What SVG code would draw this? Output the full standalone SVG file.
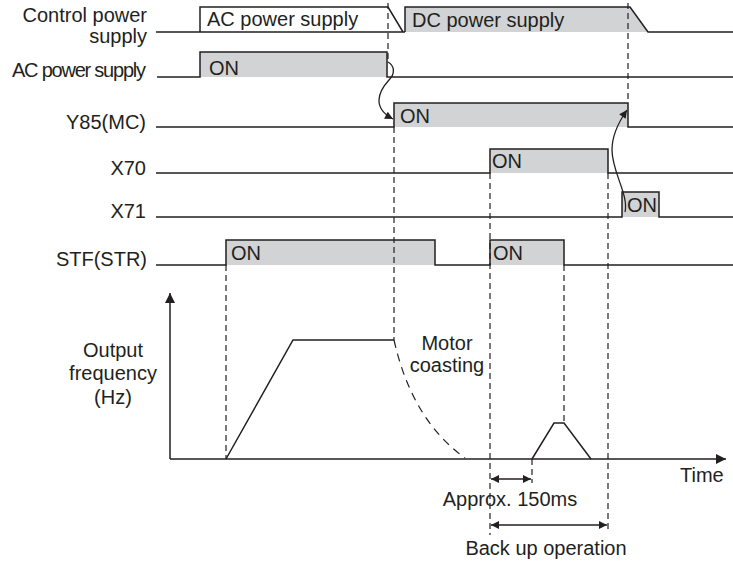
<svg xmlns="http://www.w3.org/2000/svg" width="733" height="563" viewBox="0 0 733 563">
<style>
text{font-family:"Liberation Sans",Arial,sans-serif;font-size:20px;fill:#231f20}
.lbl{text-anchor:end}
.mid{text-anchor:middle}
.w{fill:none;stroke:#231f20;stroke-width:1.5;stroke-linejoin:miter}
.f{fill:#d1d3d4;stroke:none}
.d{fill:none;stroke:#231f20;stroke-width:1.2;stroke-dasharray:6 4}
.dc{fill:none;stroke:#231f20;stroke-width:1.2;stroke-dasharray:8 6}
.c{fill:none;stroke:#231f20;stroke-width:1.3}
</style>
<defs>
<marker id="ah" viewBox="0 0 10 10" refX="10" refY="5" markerWidth="10" markerHeight="8" markerUnits="userSpaceOnUse" orient="auto-start-reverse"><path d="M0,0 L10,5 L0,10 Z" fill="#231f20"/></marker>
<marker id="ax" viewBox="0 0 10 10" refX="10" refY="5" markerWidth="12" markerHeight="10" markerUnits="userSpaceOnUse" orient="auto"><path d="M0,0 L10,5 L0,10 Z" fill="#231f20"/></marker>
</defs>
<rect width="733" height="563" fill="#fff"/>

<g id="control-power">
<text class="lbl" x="147" y="22">Control power</text>
<text class="lbl" x="147" y="43">supply</text>
<polygon class="f" points="405,7 630,7 648,32 405,32"/>
<path class="w" d="M156,32 H405 M200,32 V7 H388 L403,32 M405,32 V7 H630 L648,32 H733"/>
<text x="207" y="26">AC power supply</text>
<text x="412" y="27">DC power supply</text>
</g>

<g id="ac-power">
<text class="lbl" x="146" y="77" font-size="19" textLength="134" lengthAdjust="spacing">AC power supply</text>
<rect class="f" x="200" y="52" width="187" height="25"/>
<path class="w" d="M157,77 H200 V52 H387 V77 H733"/>
<text x="209" y="75">ON</text>
</g>

<g id="y85">
<text class="lbl" x="146" y="129">Y85(MC)</text>
<rect class="f" x="394" y="103" width="234" height="24"/>
<path class="w" d="M156,127 H394 V103 H628 V127 H733"/>
<text x="400" y="123">ON</text>
</g>

<g id="x70">
<text class="lbl" x="146" y="175">X70</text>
<rect class="f" x="490" y="149" width="118" height="24"/>
<path class="w" d="M156,173 H490 V149 H608 V173 H733"/>
<text x="492" y="168">ON</text>
</g>

<g id="x71">
<text class="lbl" x="146" y="218">X71</text>
<rect class="f" x="622" y="192" width="37" height="25"/>
<path class="w" d="M156,217 H622 V192 H659 V217 H733"/>
<text x="627" y="212">ON</text>
</g>

<g id="stf">
<text class="lbl" x="147" y="266">STF(STR)</text>
<rect class="f" x="226" y="240" width="209" height="25"/>
<rect class="f" x="490" y="240" width="74" height="25"/>
<path class="w" d="M156,265 H226 V240 H435 V265 H490 V240 H564 V265 H733"/>
<text x="231" y="260">ON</text>
<text x="493" y="260">ON</text>
</g>

<g id="frequency-plot">
<text class="mid" x="113" y="357">Output</text>
<text class="mid" x="113" y="380">frequency</text>
<text class="mid" x="113" y="404">(Hz)</text>
<line class="w" x1="170" y1="459" x2="170" y2="293" marker-end="url(#ax)"/>
<line class="w" x1="170" y1="459" x2="726" y2="459" marker-end="url(#ax)"/>
<path class="w" d="M226,459 L293,340 H394"/>
<path class="dc" d="M394,340 Q412,420 465,458"/>
<path class="w" d="M532,459 L554,423 H564 L591,459"/>
<text class="mid" x="447" y="350">Motor</text>
<text class="mid" x="447" y="372">coasting</text>
<text x="680" y="482">Time</text>
<text class="mid" x="510" y="506">Approx. 150ms</text>
<text class="mid" x="546" y="555">Back up operation</text>
</g>

<g id="connectors">
<path class="d" d="M388,3 V60"/>
<path class="d" d="M628,3 V103"/>
<path class="d" d="M394,127 V340"/>
<path class="d" d="M226,265 V459"/>
<path class="d" d="M490,173 V535"/>
<path class="d" d="M608,173 V532"/>
<path class="d" d="M564,265 V423"/>
<path class="d" d="M532,459 V483"/>
<line class="c" x1="491" y1="479" x2="531" y2="479" marker-start="url(#ah)" marker-end="url(#ah)"/>
<line class="c" x1="491" y1="525" x2="607" y2="525" marker-start="url(#ah)" marker-end="url(#ah)"/>
<path class="c" d="M388,62 C395,66 395,74 389,80 C378,92 372,108 393,119" marker-end="url(#ah)"/>
<path class="c" d="M625,212 C629,195 612,172 612,150 C612,135 620,120 627,110" marker-end="url(#ah)"/>
</g>
</svg>
